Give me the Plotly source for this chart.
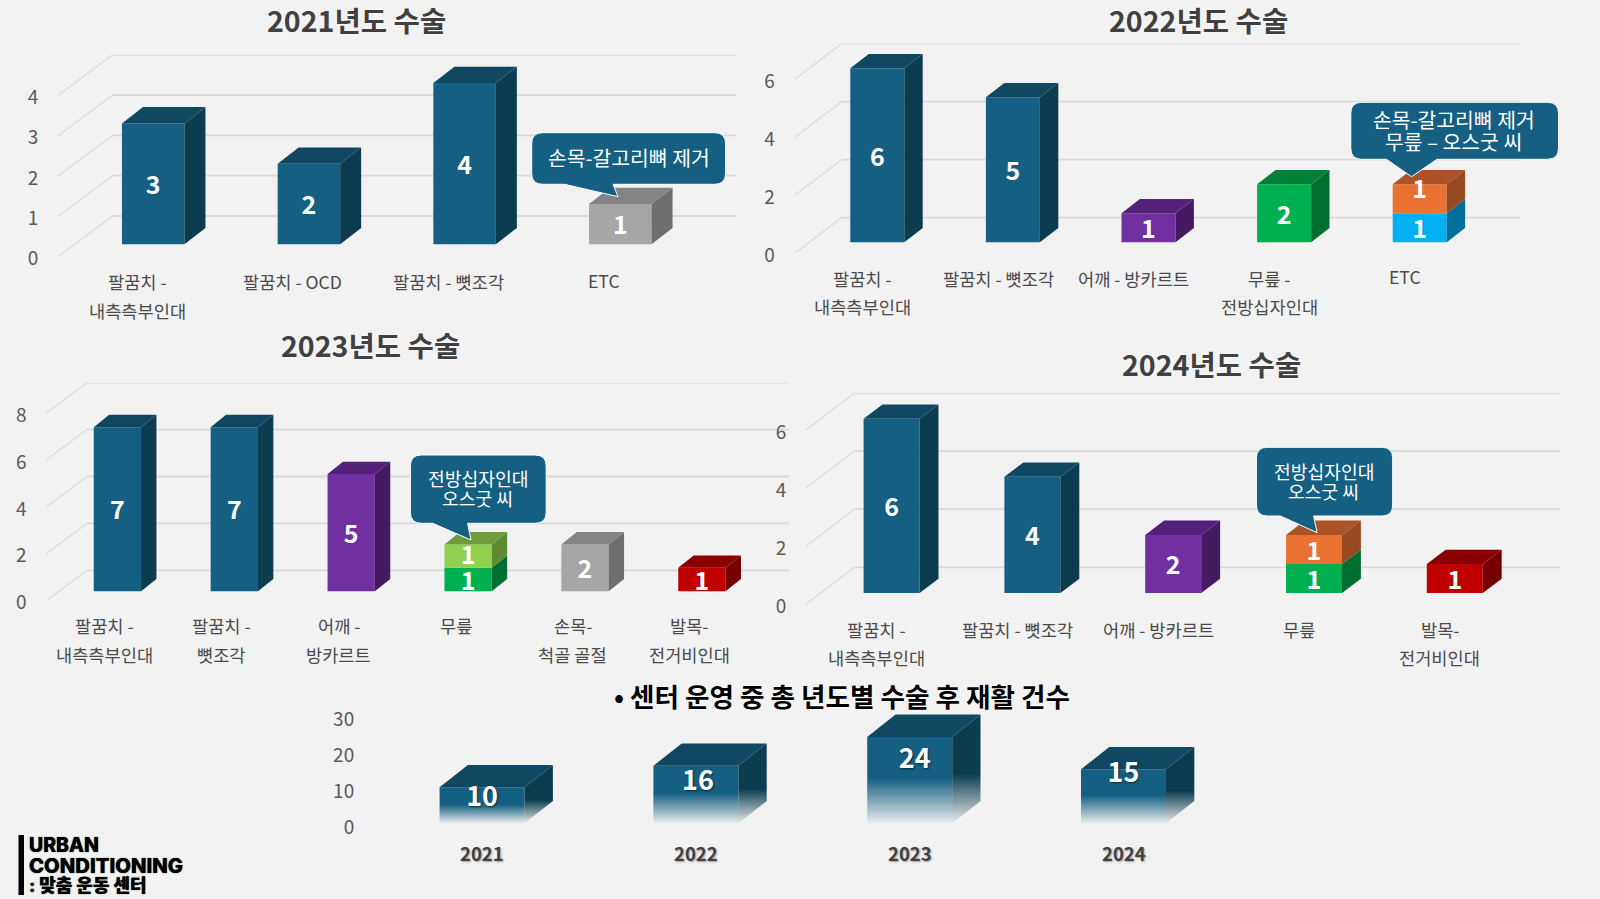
import plotly.graph_objects as go

W, H = 1600, 899
FONT = "Noto Sans CJK KR"
BG = "#f2f2f2"

# ---------- data ----------
TITLE_2021 = "2021년도 수술"
CATS_2021 = [["팔꿈치 -", "내측측부인대"], ["팔꿈치 - OCD"], ["팔꿈치 - 뼛조각"], ["ETC"]]
VALS_2021_LOWER = [3, 2, 4, 1]
COLS_2021_LOWER = ["teal", "teal", "teal", "grey"]
TICKS_2021 = [0, 1, 2, 3, 4]

TITLE_2022 = "2022년도 수술"
CATS_2022 = [["팔꿈치 -", "내측측부인대"], ["팔꿈치 - 뼛조각"], ["어깨 - 방카르트"], ["무릎 -", "전방십자인대"], ["ETC"]]
VALS_2022_LOWER = [6, 5, 1, 2, 1]
VALS_2022_UPPER = [0, 0, 0, 0, 1]
COLS_2022_LOWER = ["teal", "teal", "purple", "green", "sky"]
COLS_2022_UPPER = ["teal", "teal", "purple", "green", "orange"]
TICKS_2022 = [0, 2, 4, 6]

TITLE_2023 = "2023년도 수술"
CATS_2023 = [["팔꿈치 -", "내측측부인대"], ["팔꿈치 -", "뼛조각"], ["어깨 -", "방카르트"], ["무릎"], ["손목-", "척골 골절"], ["발목-", "전거비인대"]]
VALS_2023_LOWER = [7, 7, 5, 1, 2, 1]
VALS_2023_UPPER = [0, 0, 0, 1, 0, 0]
COLS_2023_LOWER = ["teal", "teal", "purple", "green", "grey", "red"]
COLS_2023_UPPER = ["teal", "teal", "purple", "lime", "grey", "red"]
TICKS_2023 = [0, 2, 4, 6, 8]

TITLE_2024 = "2024년도 수술"
CATS_2024 = [["팔꿈치 -", "내측측부인대"], ["팔꿈치 - 뼛조각"], ["어깨 - 방카르트"], ["무릎"], ["발목-", "전거비인대"]]
VALS_2024_LOWER = [6, 4, 2, 1, 1]
VALS_2024_UPPER = [0, 0, 0, 1, 0]
COLS_2024_LOWER = ["teal", "teal", "purple", "green", "red"]
COLS_2024_UPPER = ["teal", "teal", "purple", "orange", "red"]
TICKS_2024 = [0, 2, 4, 6]

TITLE_TOTAL = "• 센터 운영 중 총 년도별 수술 후 재활 건수"
CATS_TOTAL = ["2021", "2022", "2023", "2024"]
VALS_TOTAL = [10, 16, 24, 15]
TICKS_TOTAL = [0, 10, 20, 30]

NOTE_2021 = ["손목-갈고리뼈 제거"]
NOTE_2022 = ["손목-갈고리뼈 제거", "무릎 – 오스굿 씨"]
NOTE_2023 = ["전방십자인대", "오스굿 씨"]
NOTE_2024 = ["전방십자인대", "오스굿 씨"]

LOGO_LINES = ["URBAN", "CONDITIONING", ": 맞춤 운동 센터"]

# ---------- styling ----------
PALETTE = {  # front, side, top
    "teal": ("#156082", "#0b3c50", "#104862"),
    "purple": ("#7030a0", "#461a60", "#532179"),
    "green": ("#00b050", "#006e31", "#008037"),
    "sky": ("#00b0f0", "#006f99", "#0085b5"),
    "orange": ("#e97132", "#954a20", "#ab5226"),
    "lime": ("#92d050", "#5f8a34", "#6f9c3b"),
    "grey": ("#a6a6a6", "#6e6e6e", "#838383"),
    "red": ("#c00000", "#760000", "#8b0000"),
}

LAYOUTS = [
    dict(title=TITLE_2021, cats=CATS_2021, series=[(VALS_2021_LOWER, COLS_2021_LOWER)], ticks=TICKS_2021,
         left=58, right=736, back_left=112.5, y0=256.7, unit=40.3, back_dy=40.7, c0=153.2, step=155.7, bar=62.5,
         floor=244.3, sdx=21, sdy=16.3, tick_gap=15, cat_dx=-16, title_xy=(356, 21.7), etc_dy=-1.5,
         nudge={}),
    dict(title=TITLE_2022, cats=CATS_2022, series=[(VALS_2022_LOWER, COLS_2022_LOWER), (VALS_2022_UPPER, COLS_2022_UPPER)], ticks=TICKS_2022,
         left=794.7, right=1520, back_left=841.6, y0=253.3, unit=29, back_dy=35.6, c0=877.3, step=135.6, bar=54,
         floor=242.3, sdx=18.4, sdy=14.3, tick_gap=15, cat_dx=-14.7, title_xy=(1198.8, 21), etc_dy=-1.5,
         nudge={(1, 4): 11}),
    dict(title=TITLE_2023, cats=CATS_2023, series=[(VALS_2023_LOWER, COLS_2023_LOWER), (VALS_2023_UPPER, COLS_2023_UPPER)], ticks=TICKS_2023,
         left=46.3, right=789, back_left=87, y0=600.7, unit=23.45, back_dy=30.4, c0=117.4, step=116.9, bar=47.3,
         floor=591.3, sdx=15.4, sdy=12.3, tick_gap=15, cat_dx=-12.5, title_xy=(370.6, 346), etc_dy=0,
         nudge={(1, 3): 2}),
    dict(title=TITLE_2024, cats=CATS_2024, series=[(VALS_2024_LOWER, COLS_2024_LOWER), (VALS_2024_UPPER, COLS_2024_UPPER)], ticks=TICKS_2024,
         left=806, right=1560, back_left=854.4, y0=604.3, unit=29.05, back_dy=37, c0=891.6, step=140.8, bar=56,
         floor=593, sdx=18.9, sdy=14.3, tick_gap=15, cat_dx=-15, title_xy=(1211.5, 365.7), etc_dy=0,
         nudge={}),
]
TOTAL_LAYOUT = dict(left=386, right=1200, back_left=405.6, y0=825.7, unit=3.6, back_dy=24, c0=482.1, step=213.8,
                    bar=85, floor=823.3, sdx=28.3, sdy=22.3, tick_gap=27)
TOTAL_LABEL_SHIFT = [(0, 0), (2, 0), (5, 0), (0, 11)]  # pixels right / up from the 3/4 height of each bar
LABEL_DROP = 4  # pixels; the digits of the source sit slightly below the face centre

fig = go.Figure()
shapes, annos = [], []


def px(x):
    return x / W


def py(y):
    return 1 - y / H


def text(x, y, s, size, color="#404040", weight=400, shadow=None, family=FONT, xanchor="center", xref="paper"):
    f = dict(size=size, color=color, family=family, weight=weight)
    if shadow:
        f["shadow"] = shadow
    annos.append(dict(x=px(x) if xref == "paper" else x, y=py(y), xref=xref, yref="paper", text=s, showarrow=False,
                      font=f, xanchor=xanchor, yanchor="middle", align="center"))


def add_axes(n, cfg, ticks):
    suffix = "" if n == 1 else str(n)
    xr = [(cfg["left"] - cfg["c0"]) / cfg["step"], (cfg["right"] - cfg["c0"]) / cfg["step"]]
    top = cfg["y0"] - cfg["back_dy"] - ticks[-1] * cfg["unit"]
    yr = [0, (cfg["y0"] - top) / cfg["unit"]]
    fig.update_layout({
        f"xaxis{suffix}": dict(domain=[px(cfg["left"]), px(cfg["right"])], range=xr, visible=False, anchor=f"y{suffix}",
                               fixedrange=True, automargin=False),
        f"yaxis{suffix}": dict(domain=[py(cfg["y0"]), py(top)], range=yr, anchor=f"x{suffix}", tickmode="array",
                               tickvals=ticks, ticktext=[str(t) for t in ticks], showgrid=False, zeroline=False,
                               showline=False, ticks="outside", ticklen=cfg["tick_gap"], tickcolor="rgba(0,0,0,0)",
                               ticklabelshift=2,
                               tickfont=dict(size=19, color="#595959", family=FONT), fixedrange=True, automargin=False),
    })
    xa, ya = f"x{suffix}", f"y{suffix}"
    # walls, computed from the tick values on the chart's own axes
    dx = (cfg["back_left"] - cfg["left"]) / cfg["step"]
    dy = cfg["back_dy"] / cfg["unit"]
    color = cfg.get("grid", "#d9d9d9")
    for t in ticks:
        shapes.append(dict(type="line", xref=xa, yref=ya, x0=xr[0], y0=t, x1=xr[0] + dx, y1=t + dy, layer="below",
                           line=dict(color=color, width=1.2)))
        shapes.append(dict(type="line", xref=xa, yref=ya, x0=xr[0] + dx, y0=t + dy, x1=xr[1], y1=t + dy, layer="below",
                           line=dict(color=color, width=1.8)))
    return xa, ya


def poly(pts):
    xs, ys = [], []
    for p in pts:
        xs += [q[0] for q in p] + [p[0][0], None]
        ys += [q[1] for q in p] + [p[0][1], None]
    return xs, ys


def add_stack_chart(n, cfg):
    xa, ya = add_axes(n, cfg, cfg["ticks"])
    base0 = (cfg["y0"] - cfg["floor"]) / cfg["unit"]
    w = cfg["bar"] / cfg["step"]
    sx, sy = cfg["sdx"] / cfg["step"], cfg["sdy"] / cfg["unit"]
    ncat = len(cfg["cats"])
    xs_pos = list(range(ncat))
    bases = [base0] * ncat
    for level, (vals, cols) in enumerate(cfg["series"]):
        fig.add_trace(go.Bar(x=xs_pos, y=vals, base=bases, width=w, xaxis=xa, yaxis=ya, showlegend=False,
                             marker=dict(color=[PALETTE[c][0] for c in cols], line=dict(width=0)), hoverinfo="skip"))
        for i, v in enumerate(vals):
            if not v:
                continue
            b, t = bases[i], bases[i] + v
            is_top = level == len(cfg["series"]) - 1 or not cfg["series"][level + 1][0][i]
            r = i + w / 2
            sxs, sys = poly([[(r, b), (r + sx, b + sy), (r + sx, t + sy), (r, t)]])
            fig.add_trace(go.Scatter(x=sxs, y=sys, mode="none", fill="toself", fillcolor=PALETTE[cols[i]][1], xaxis=xa,
                                     yaxis=ya, showlegend=False, hoverinfo="skip"))
            if is_top:
                txs, tys = poly([[(i - w / 2, t), (r, t), (r + sx, t + sy), (i - w / 2 + sx, t + sy)]])
                fig.add_trace(go.Scatter(x=txs, y=tys, mode="none", fill="toself", fillcolor=PALETTE[cols[i]][2], xaxis=xa,
                                         yaxis=ya, showlegend=False, hoverinfo="skip"))
            ny = (cfg["nudge"].get((level, i), 0) - LABEL_DROP) / cfg["unit"]
            fig.add_trace(go.Scatter(x=[i], y=[(b + t) / 2 + ny], mode="text", text=[str(v)], textposition="middle center",
                                     textfont=dict(size=25, color="white", family=FONT, weight=700), xaxis=xa, yaxis=ya,
                                     showlegend=False, hoverinfo="skip", cliponaxis=False))
        bases = [b + v for b, v in zip(bases, vals)]
    # category labels
    for i, lines in enumerate(cfg["cats"]):
        etc = cfg["etc_dy"] if lines == ["ETC"] else 0
        for j, line in enumerate(lines):
            text(i + cfg["cat_dx"] / cfg["step"], cfg["y0"] + 25 + 28.4 * j + etc, line, 17.6, color="#4a4a4a", xref=xa)
    tx, ty = cfg["title_xy"]
    text(tx, ty - 2, cfg["title"], 28.6, color="#404040", weight=700, shadow="0 0 3px #ffffff")


for k, c in enumerate(LAYOUTS):
    add_stack_chart(k + 1, c)

# ---------- total chart with fading bars ----------
cfg = TOTAL_LAYOUT
cfg["grid"] = "#f0f0f0"
xa, ya = add_axes(5, cfg, TICKS_TOTAL)
base0 = (cfg["y0"] - cfg["floor"]) / cfg["unit"]
w = cfg["bar"] / cfg["step"]
sx, sy = cfg["sdx"] / cfg["step"], cfg["sdy"] / cfg["unit"]


def fade(rgb):
    return [[0, f"rgba({rgb},0.04)"], [0.52, f"rgba({rgb},1)"], [1, f"rgba({rgb},1)"]]


for i, v in enumerate(VALS_TOTAL):
    b, t = base0, base0 + v
    r, l = i + w / 2, i - w / 2
    fx, fy = poly([[(l, b), (r, b), (r, t), (l, t)]])
    fig.add_trace(go.Scatter(x=fx, y=fy, mode="none", fill="toself", xaxis=xa, yaxis=ya, showlegend=False, hoverinfo="skip",
                             fillgradient=dict(type="vertical", colorscale=fade("21,96,130"), start=b, stop=t)))
    sxs, sys = poly([[(r, b), (r + sx, b + sy), (r + sx, t + sy), (r, t)]])
    fig.add_trace(go.Scatter(x=sxs, y=sys, mode="none", fill="toself", xaxis=xa, yaxis=ya, showlegend=False, hoverinfo="skip",
                             fillgradient=dict(type="vertical", colorscale=fade("11,60,80"), start=b, stop=t + sy * 0.4)))
    txs, tys = poly([[(l, t), (r, t), (r + sx, t + sy), (l + sx, t + sy)]])
    fig.add_trace(go.Scatter(x=txs, y=tys, mode="none", fill="toself", fillcolor="#104862", xaxis=xa, yaxis=ya,
                             showlegend=False, hoverinfo="skip"))
    ddx, ddy = TOTAL_LABEL_SHIFT[i]
    fig.add_trace(go.Scatter(x=[i + ddx / cfg["step"]], y=[b + 0.75 * v + (ddy - LABEL_DROP + 1) / cfg["unit"]], mode="text",
                             text=[str(v)], textposition="middle center",
                             textfont=dict(size=27, color="white", family=FONT, weight=700, shadow="1px 1px 2px #0a2a3a"),
                             xaxis=xa, yaxis=ya, showlegend=False, hoverinfo="skip", cliponaxis=False))
    text(i, cfg["y0"] + 27.3, CATS_TOTAL[i], 18.5, color="#404040", weight=700, shadow="1px 1px 2px #a0a0a0", xref=xa)
text(842, 695, TITLE_TOTAL, 26.6, color="#000000", weight=700, shadow="0 0 3px #ffffff")


# ---------- callouts ----------
def callout(x0, x1, y0, y1, tip, b0, b1, lines, lines_xy, size):
    r = 11
    path = (f"M{px(x0 + r)},{py(y0)} L{px(x1 - r)},{py(y0)} Q{px(x1)},{py(y0)} {px(x1)},{py(y0 + r)} "
            f"L{px(x1)},{py(y1 - r)} Q{px(x1)},{py(y1)} {px(x1 - r)},{py(y1)} L{px(b1)},{py(y1)} "
            f"L{px(tip[0])},{py(tip[1])} L{px(b0)},{py(y1)} L{px(x0 + r)},{py(y1)} "
            f"Q{px(x0)},{py(y1)} {px(x0)},{py(y1 - r)} L{px(x0)},{py(y0 + r)} Q{px(x0)},{py(y0)} {px(x0 + r)},{py(y0)} Z")
    shapes.append(dict(type="path", path=path, xref="paper", yref="paper", layer="above", fillcolor="#156082",
                       line=dict(color="#ffffff", width=1)))
    for s, (x, y) in zip(lines, lines_xy):
        text(x, y, s, size, color="#ffffff")


callout(531.7, 725.6, 132.7, 184.3, (618, 196.7), 564.7, 613, NOTE_2021, [(628.7, 157.3)], 20.4)
callout(1350.8, 1558.5, 102.3, 159.3, (1411.5, 176.7), 1386.5, 1437, NOTE_2022, [(1453.9, 119), (1453.9, 140.7)], 20.4)
callout(410.4, 546.2, 455, 523.3, (471, 540), 432.8, 467.6, NOTE_2023, [(477.6, 478.3), (477.6, 498.3)], 18.2)
callout(1256.4, 1392.7, 447.3, 516, (1317.1, 532.7), 1280.4, 1313.6, NOTE_2024, [(1323.8, 470.7), (1323.8, 490.7)], 18.2)

# ---------- logo ----------
shapes.append(dict(type="rect", xref="paper", yref="paper", x0=px(18.5), x1=px(24), y0=py(835), y1=py(895),
                   fillcolor="#000000", line=dict(width=0)))
for s, y, sz in zip(LOGO_LINES, [844.5, 865, 885.5], [19.5, 20.3, 18]):
    text(26.7, y, s, sz, color="#000000", weight=800, family="Inter, " + FONT, xanchor="left", shadow="0 0 1px #000000")

fig.update_layout(width=W, height=H, margin=dict(l=0, r=0, t=0, b=0, autoexpand=False), paper_bgcolor=BG,
                  plot_bgcolor="rgba(0,0,0,0)", shapes=shapes, annotations=annos, showlegend=False, barmode="overlay",
                  font=dict(family=FONT))
fig.write_html("out.html", config=dict(displayModeBar=False),
               post_script="document.body.style.margin='0';document.body.style.background='#f2f2f2';")
